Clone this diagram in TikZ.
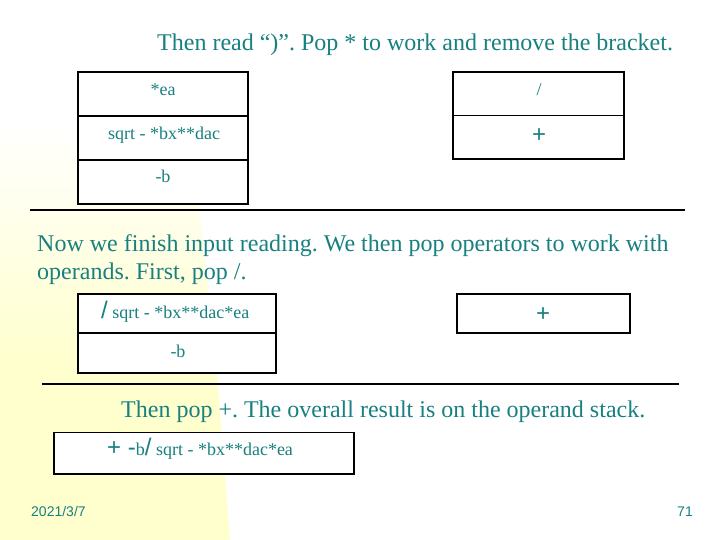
\documentclass[tikz,border=0pt]{standalone}
\usepackage{fontspec}
\setmainfont{Liberation Serif}
\newfontfamily\arialf{Liberation Sans}
\definecolor{tealtxt}{RGB}{24,128,128}
\definecolor{bgyellow}{RGB}{255,255,206}
\newcommand{\bigop}[1]{{\arialf\fontsize{24bp}{28bp}\selectfont #1}}
\frenchspacing
\begin{document}
\begin{tikzpicture}[x=1bp,y=-1bp,
  cell/.style={draw=black,line width=1.3bp,fill=white,anchor=north west,inner sep=0pt,outer sep=0pt},
  bigtxt/.style={font=\fontsize{24bp}{29bp}\selectfont,text=tealtxt,inner sep=0pt,anchor=base west},
  smalltxt/.style={font=\fontsize{18bp}{21bp}\selectfont,text=tealtxt,inner sep=0pt,anchor=base},
  optxt/.style={font=\arialf\fontsize{24bp}{28bp}\selectfont,text=tealtxt,inner sep=0pt,anchor=base},
  foot/.style={font=\arialf\fontsize{14bp}{16bp}\selectfont,text=tealtxt,inner sep=0pt},
  rule/.style={line width=1.2bp,draw=black}]
% background
\fill[white] (0,0) rectangle (720,540);
\useasboundingbox (0,0) rectangle (720,540);
\shade[top color=white,bottom color=bgyellow] (0,120) -- (190,120) -- (216,360) -- (0,360) -- cycle;
\fill[bgyellow] (0,359) -- (216,359) -- (230,540) -- (0,540) -- cycle;

% title 1
\node[bigtxt] (title1) at (157,51) {Then read “)”. Pop * to work and remove the bracket.};

% stack 1 (operands)
\node[cell,minimum width=170bp,minimum height=44bp] (s1a) at (78,72) {};
\node[cell,minimum width=170bp,minimum height=44bp] (s1b) at (78,116) {};
\node[cell,minimum width=170bp,minimum height=44bp] (s1c) at (78,160) {};
\node[smalltxt] (t1a) at (163,96) {*ea};
\node[smalltxt] (t1b) at (164,140) {sqrt - *bx**dac};
\node[smalltxt] (t1c) at (163,183) {-b};

% stack 2 (operators)
\node[cell,minimum width=171bp,minimum height=43.5bp] (s2a) at (453,72) {};
\node[cell,minimum width=171bp,minimum height=43.5bp] (s2b) at (453,115.5) {};
\node[smalltxt] (t2a) at (539,96) {/};
\node[optxt] (t2b) at (539,143) {+};

% rule 1
\coordinate (r1a) at (30,210);
\coordinate (r1b) at (685,210);
\draw[rule] (r1a) -- (r1b);

% paragraph 2
\node[bigtxt] (p2a) at (37,252) {Now we finish input reading. We then pop operators to work with};
\node[bigtxt] (p2b) at (37,280) {operands. First, pop /.};

% stack 3
\node[cell,minimum width=198bp,minimum height=39bp] (s3a) at (78,294) {};
\node[cell,minimum width=198bp,minimum height=40bp] (s3b) at (78,333) {};
\node[smalltxt,anchor=base west] (t3a) at (101,318) {\bigop{/} sqrt - *bx**dac*ea};
\node[smalltxt] (t3b) at (178,357) {-b};

% box 4
\node[cell,minimum width=173bp,minimum height=39bp] (s4a) at (457,294) {};
\node[optxt] (t4a) at (543,321) {+};

% rule 2
\coordinate (r2a) at (42,384);
\coordinate (r2b) at (679,384);
\draw[rule] (r2a) -- (r2b);

% title 3
\node[bigtxt] (title3) at (121,417) {Then pop +. The overall result is on the operand stack.};

% box 5
\node[cell,minimum width=300bp,minimum height=41.5bp] (s5a) at (54,432.5) {};
\node[smalltxt,anchor=base west] (t5a) at (107,455) {\bigop{+ -}b\bigop{/} sqrt - *bx**dac*ea};

% footer
\node[foot,anchor=base west] (date) at (31,516) {2021/3/7};
\node[foot,anchor=base east] (page) at (693,516) {71};
\end{tikzpicture}
\end{document}
